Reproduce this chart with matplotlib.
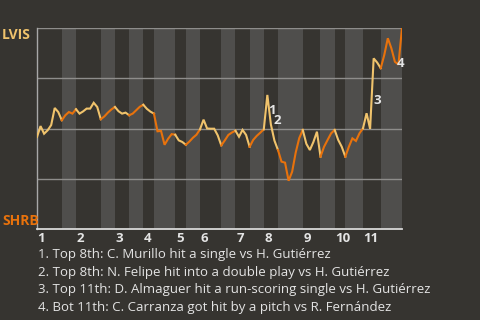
import matplotlib
matplotlib.use("Agg")
import matplotlib.pyplot as plt

BG = "#363430"
BAND = "#4f4e4c"
GRID = "#8e8d8b"
TOP_COLOUR = "#f0c36c"
BOT_COLOUR = "#e8720c"
TEXT = "#e4e4e4"
FONT = "Open Sans"

TEAMS = ["LVIS", "SHRB"]
INNINGS = ["1", "2", "3", "4", "5", "6", "7", "8", "9", "10", "11"]

# events in each half inning (top 1, bot 1, top 2, ...)
HALF_COUNTS = [7, 4, 7, 4, 4, 4, 3, 6, 3, 4, 6, 4, 4, 4, 4, 7, 5, 4, 3, 5, 5, 6]

# LVIS win probability (%) after each event, first value is the start of the game
WIN_PROB = [
    45.8, 51.2, 47.4, 49.1, 51.7, 60.2, 58.2, 54.1,
    56.6, 58.2, 57.4, 59.6,
    57.4, 58.5, 59.9, 59.9, 62.8, 60.7, 54.6,
    56.0, 57.9, 59.5, 60.7,
    58.6, 57.4, 57.9, 56.6,
    57.4, 59.1, 60.8, 61.8,
    59.8, 58.4, 57.4,
    48.6, 48.8, 41.9, 44.9, 47.2, 46.9,
    44.1, 43.3, 41.9,
    43.5, 45.4, 46.9, 49.6,
    54.4, 50.0, 49.9, 49.9, 46.6, 41.6,
    44.1, 46.8, 48.0, 48.9,
    45.9, 49.3, 46.8, 40.9,
    44.3, 46.3, 47.9, 49.6,
    66.7, 52.0, 44.0, 39.3,
    33.5, 33.0, 24.0, 28.5, 38.0, 45.2, 49.3,
    42.4, 39.3, 43.3, 48.4, 36.0,
    40.9, 44.3, 47.6, 49.3,
    44.3, 40.9, 36.0,
    40.9, 45.1, 43.8, 47.6, 50.1,
    57.6, 49.8, 84.9, 82.8, 80.0,
    86.6, 94.9, 89.9, 83.2, 81.8, 100.0,
]

NOTE_EVENTS = [65, 66, 95, 101]
NOTE_TEXTS = [
    "Top 8th: C. Murillo hit a single vs H. Gutiérrez",
    "Top 8th: N. Felipe hit into a double play vs H. Gutiérrez",
    "Top 11th: D. Almaguer hit a run-scoring single vs H. Gutiérrez",
    "Bot 11th: C. Carranza got hit by a pitch vs R. Fernández",
]
NOTE_OFFSETS = [(4.6, 0.9), (5.6, -8.1), (3.7, -5.3), (5.6, -5.8)]


fig = plt.figure(figsize=(4.8, 3.2), dpi=100, facecolor=BG)
ax = fig.add_axes([37 / 480, 1 - 229 / 320, 365 / 480, 201 / 320])
ax.set_facecolor(BG)

n_events = sum(HALF_COUNTS)
ax.set_xlim(0, n_events)
ax.set_ylim(0, 100)

# half-inning bands and line pieces
starts = []
pos = 0
for h, count in enumerate(HALF_COUNTS):
    end = pos + count
    if h % 2 == 1:
        ax.axvspan(pos, end, color=BAND, lw=0, zorder=0)
    else:
        starts.append(pos)
    colour = TOP_COLOUR if h % 2 == 0 else BOT_COLOUR
    xs = list(range(pos, end + 1))
    ax.plot(xs, WIN_PROB[pos:end + 1], color=colour, lw=1.5,
            solid_joinstyle="miter", zorder=3)
    pos = end

for y in [25, 50, 75, 100]:
    ax.axhline(y, color=GRID, lw=1, zorder=1)

for side in ["top", "right"]:
    ax.spines[side].set_visible(False)
ax.spines["left"].set_color("#a8a8a8")
ax.spines["left"].set_linewidth(1)
ax.spines["bottom"].set_color("#d8d8d8")
ax.spines["bottom"].set_linewidth(1.3)
ax.set_xticks([])
ax.set_yticks([])

# inning numbers
for s, label in zip(starts, INNINGS):
    ax.annotate(label, (s, 0), xytext=(0.5, -2.5), textcoords="offset points",
                ha="left", va="top", color=TEXT, fontsize=9.5,
                fontweight="bold", family=FONT, annotation_clip=False)

# numbered notes on the line
for k, (e, off) in enumerate(zip(NOTE_EVENTS, NOTE_OFFSETS)):
    mx = e - 0.5
    my = (WIN_PROB[e - 1] + WIN_PROB[e]) / 2
    ax.annotate(str(k + 1), (mx, my), xytext=off, textcoords="offset points",
                ha="center", va="center", color=TEXT, fontsize=9.5,
                fontweight="bold", family=FONT, zorder=5,
                annotation_clip=False)

fig.text(2 / 480, 1 - 35 / 320, TEAMS[0], color=TOP_COLOUR, fontsize=10,
         fontweight="bold", family=FONT, ha="left", va="center")
fig.text(2 / 480, 1 - 221 / 320, TEAMS[1], color=BOT_COLOUR, fontsize=10,
         fontweight="bold", family=FONT, ha="left", va="center")

for k, text in enumerate(NOTE_TEXTS):
    fig.text(38 / 480, 1 - (254.5 + k * 17.7) / 320, "%d. %s" % (k + 1, text),
             color=TEXT, fontsize=9.5, family=FONT, ha="left", va="center")

fig.savefig("out.png", dpi=100, facecolor=BG)
